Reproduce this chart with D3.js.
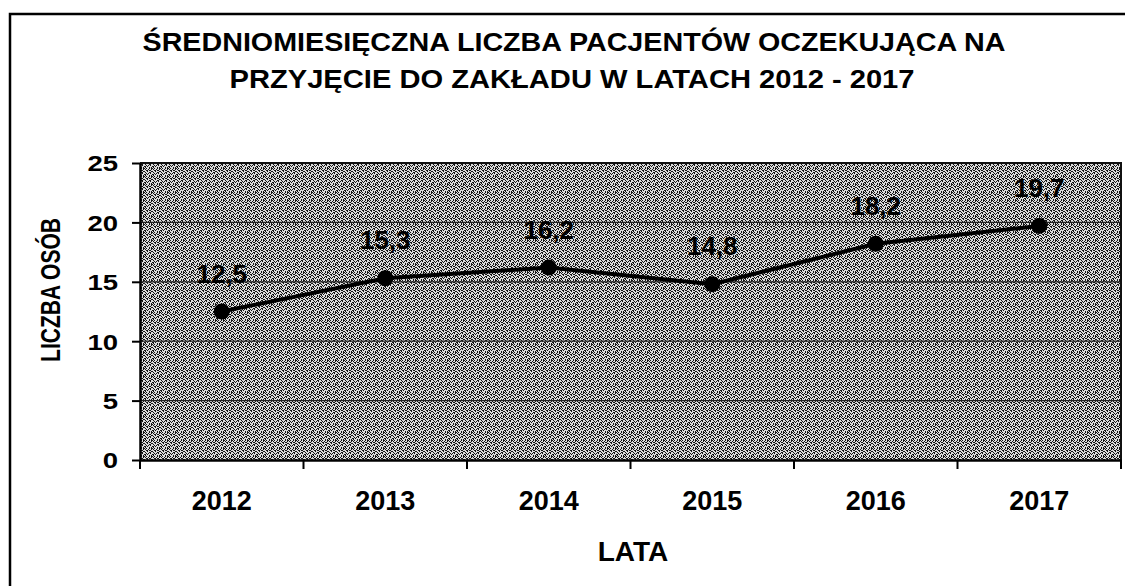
<!DOCTYPE html>
<html>
<head>
<meta charset="utf-8">
<script src="https://cdn.jsdelivr.net/npm/d3@7"></script>
<style>
	body { margin: 0; background: #fff; }
	svg { display: block; font-family: Arial, "Liberation Sans", sans-serif; }
</style>
</head>
<body>
<div id="chart"></div>
<script>
// chart data
const years = ['2012', '2013', '2014', '2015', '2016', '2017'];
const values = [12.5, 15.3, 16.2, 14.8, 18.2, 19.7];
const yTicks = [0, 5, 10, 15, 20, 25];
const titleLines = [
	'ŚREDNIOMIESIĘCZNA LICZBA PACJENTÓW OCZEKUJĄCA NA',
	'PRZYJĘCIE DO ZAKŁADU W LATACH 2012 - 2017',
];

const width = 1125;
const height = 586;
const plot = { left: 140, right: 1121, top: 163, bottom: 460 };

const svg = d3.select('#chart')
	.append('svg')
	.attr('width', width)
	.attr('height', height);

// stipple texture for the plot area (scanned halftone look)
const tile = [
	'10100101',
	'01001001',
	'00110110',
	'10010001',
	'01000110',
	'00101010',
	'11010000',
	'01000101',
];
const pattern = svg.append('defs')
	.append('pattern')
	.attr('id', 'stipple')
	.attr('patternUnits', 'userSpaceOnUse')
	.attr('width', 8)
	.attr('height', 8);
pattern.append('rect').attr('width', 8).attr('height', 8).attr('fill', '#dcdcdc');
tile.forEach((row, j) => {
	row.split('').forEach((c, i) => {
		if (c === '1') {
			pattern.append('rect')
				.attr('x', i).attr('y', j)
				.attr('width', 1).attr('height', 1)
				.attr('fill', '#141414');
		}
	});
});

// outer frame (only top and left edges are visible in the scan)
svg.append('path')
	.attr('d', `M10,${height} V14 H${width}`)
	.attr('fill', 'none')
	.attr('stroke', '#000')
	.attr('stroke-width', 2.5);

// title
svg.append('g')
	.selectAll('text')
	.data(titleLines)
	.join('text')
	.attr('x', (d, i) => (i === 0 ? 574 : 572))
	.attr('y', (d, i) => (i === 0 ? 51 : 88))
	.attr('text-anchor', 'middle')
	.attr('font-size', 25)
	.attr('font-weight', 'bold')
	.attr('textLength', (d, i) => (i === 0 ? 863 : 685))
	.attr('lengthAdjust', 'spacingAndGlyphs')
	.text((d) => d);

const x = d3.scaleBand().domain(years).range([plot.left, plot.right]);
const y = d3.scaleLinear().domain([0, 25]).range([plot.bottom, plot.top]);

// plot background
svg.append('rect')
	.attr('x', plot.left)
	.attr('y', plot.top)
	.attr('width', plot.right - plot.left)
	.attr('height', plot.bottom - plot.top)
	.attr('fill', 'url(#stipple)')
	.attr('shape-rendering', 'crispEdges');

// horizontal grid lines
svg.append('g')
	.selectAll('line')
	.data(yTicks.filter((t) => t > 0 && t < 25))
	.join('line')
	.attr('x1', plot.left)
	.attr('x2', plot.right)
	.attr('y1', (d) => y(d))
	.attr('y2', (d) => y(d))
	.attr('stroke', '#222')
	.attr('stroke-width', 1.3);

// top and right border of plot
svg.append('path')
	.attr('d', `M${plot.left},${y(25)} H${plot.right} V${plot.bottom}`)
	.attr('fill', 'none')
	.attr('stroke', '#111')
	.attr('stroke-width', 2);

// y axis
const yAxis = svg.append('g')
	.attr('transform', `translate(${plot.left},0)`)
	.call(d3.axisLeft(y).tickValues(yTicks).tickSize(8).tickSizeOuter(0));
yAxis.select('.domain').attr('stroke', '#000').attr('stroke-width', 2.5);
yAxis.selectAll('.tick line').attr('stroke', '#000').attr('stroke-width', 2);
yAxis.selectAll('.tick text')
	.attr('x', 0)
	.attr('dy', '0.36em')
	.attr('transform', 'translate(-22,0) scale(1.25,1)')
	.attr('font-size', 22)
	.attr('font-weight', 'bold')
	.attr('fill', '#000')
	.attr('font-family', 'Arial, "Liberation Sans", sans-serif');

// x axis: labels centred in bands, ticks on band edges
const xAxis = svg.append('g')
	.attr('transform', `translate(0,${plot.bottom})`)
	.call(d3.axisBottom(x).tickSize(0).tickSizeOuter(0));
xAxis.select('.domain').attr('stroke', '#000').attr('stroke-width', 2.5);
xAxis.selectAll('.tick text')
	.attr('y', 50)
	.attr('dy', 0)
	.attr('font-size', 27)
	.attr('font-weight', 'bold')
	.attr('fill', '#000')
	.attr('font-family', 'Arial, "Liberation Sans", sans-serif');
xAxis.append('g')
	.selectAll('line')
	.data(years.map((d) => x(d)).concat([plot.right]))
	.join('line')
	.attr('x1', (d) => d)
	.attr('x2', (d) => d)
	.attr('y1', 0)
	.attr('y2', 9)
	.attr('stroke', '#000')
	.attr('stroke-width', 2);

// axis titles
svg.append('text')
	.attr('transform', 'translate(60,290) scale(1.3,1) rotate(-90)')
	.attr('text-anchor', 'middle')
	.attr('font-size', 21)
	.attr('font-weight', 'bold')
	.text('LICZBA OSÓB');

svg.append('text')
	.attr('x', 633)
	.attr('y', 561)
	.attr('text-anchor', 'middle')
	.attr('font-size', 28)
	.attr('font-weight', 'bold')
	.text('LATA');

// line and markers
const points = years.map((d, i) => ({ year: d, value: values[i] }));
const cx = (d) => x(d.year) + x.bandwidth() / 2;

svg.append('path')
	.datum(points)
	.attr('d', d3.line().x(cx).y((d) => y(d.value)))
	.attr('fill', 'none')
	.attr('stroke', '#000')
	.attr('stroke-width', 4);

svg.append('g')
	.selectAll('circle')
	.data(points)
	.join('circle')
	.attr('cx', cx)
	.attr('cy', (d) => y(d.value))
	.attr('r', 8)
	.attr('fill', '#000');

// value labels
svg.append('g')
	.selectAll('text')
	.data(points)
	.join('text')
	.attr('x', cx)
	.attr('y', (d) => y(d.value) - 29)
	.attr('text-anchor', 'middle')
	.attr('font-size', 26)
	.attr('font-weight', 'bold')
	.text((d) => d.value.toFixed(1).replace('.', ','));
</script>
</body>
</html>
